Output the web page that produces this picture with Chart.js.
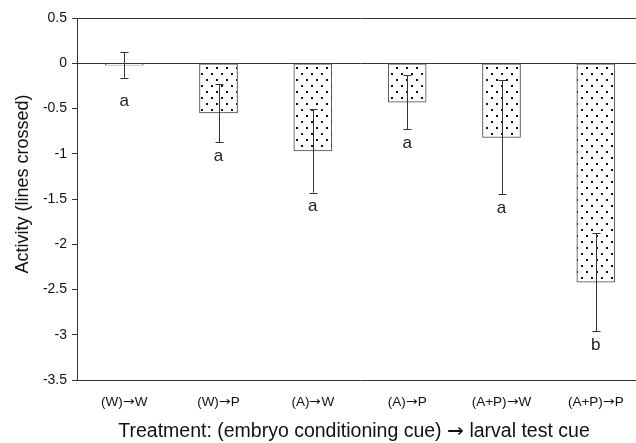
<!DOCTYPE html>
<html>
<head>
<meta charset="utf-8">
<script src="https://cdn.jsdelivr.net/npm/chart.js@4"></script>
<style>
  @font-face { font-family:"ArrowFix"; src:local("DejaVu Sans"); unicode-range:U+2192; }
  html, body { margin:0; padding:0; background:#fff; overflow:hidden; }
  #wrap { width:643px; height:443px; }
</style>
</head>
<body>
<div id="wrap"><canvas id="actChart" width="643" height="443"></canvas></div>
<script>
const categories = ["(W)\u2192W","(W)\u2192P","(A)\u2192W","(A)\u2192P","(A+P)\u2192W","(A+P)\u2192P"];
const activity = [-0.02, -0.55, -0.97, -0.43, -0.82, -2.42];
const stdErr = [0.14, 0.32, 0.46, 0.30, 0.63, 0.54];
const groupLetters = ["a","a","a","a","a","b"];
const yTicks = [0.5, 0, -0.5, -1, -1.5, -2, -2.5, -3, -3.5];

const xTitle = "Treatment: (embryo conditioning cue) \u2192 larval test cue";
const yTitle = "Activity (lines crossed)";

const FONT = "ArrowFix, 'Liberation Sans', Arial, sans-serif";

// dotted fill like the printed figure
function dotPattern(){
    const c = document.createElement("canvas");
    c.width = 10; c.height = 12;
    const g = c.getContext("2d");
    g.fillStyle = "#fff";
    g.fillRect(0,0,10,12);
    g.fillStyle = "#111";
    g.fillRect(1,1,2,2);
    g.fillRect(6,7,2,2);
    return g.createPattern(c, "repeat");
}

const errorBars = {
    id:"errorBars",
    afterDatasetsDraw(chart){
        const c = chart.ctx;
        const y = chart.scales.y;
        const meta = chart.getDatasetMeta(0);
        c.save();
        c.strokeStyle = "#333";
        c.lineWidth = 1;
        meta.data.forEach((bar, i) => {
            const x = Math.round(bar.x) + 0.5;
            const top = y.getPixelForValue(activity[i] + stdErr[i]);
            const bot = y.getPixelForValue(activity[i] - stdErr[i]);
            c.beginPath();
            c.moveTo(x, top); c.lineTo(x, bot);
            c.moveTo(x-4, Math.round(top)+0.5); c.lineTo(x+4, Math.round(top)+0.5);
            c.moveTo(x-4, Math.round(bot)+0.5); c.lineTo(x+4, Math.round(bot)+0.5);
            c.stroke();
            c.fillStyle = "#222";
            c.font = "17px " + FONT;
            c.textAlign = "center";
            c.textBaseline = "middle";
            c.fillText(groupLetters[i], bar.x, bot + (i === 0 ? 24 : 14));
        });
        c.restore();
    },
    afterDraw(chart){
        // axis titles, placed like the original figure
        const c = chart.ctx;
        c.save();
        c.fillStyle = "#111";
        c.textAlign = "center";
        c.textBaseline = "middle";
        c.font = "19.5px " + FONT;
        c.fillText(xTitle, 354, 432);
        c.translate(23, 184);
        c.rotate(-Math.PI / 2);
        c.font = "18px " + FONT;
        c.fillText(yTitle, 0, 0);
        c.restore();
    }
};

function draw(){
new Chart(document.getElementById("actChart"), {
    type:"bar",
    data:{
        labels:categories,
        datasets:[{
            data:activity,
            backgroundColor:dotPattern(),
            borderColor:"#444",
            borderWidth:1,
            borderSkipped:false,
            barThickness:38
        }]
    },
    options:{
        responsive:false,
        animation:false,
        layout:{ padding:{ top:18, right:0, left:0, bottom:0 } },
        plugins:{ legend:{ display:false }, tooltip:{ enabled:false } },
        scales:{
            x:{
                grid:{ display:false },
                border:{ color:"#333", width:1 },
                ticks:{ color:"#111", font:{ family:FONT, size:13.5 }, padding:6, maxRotation:0 },
                afterFit(s){ s.height = 63; }
            },
            y:{
                min:-3.5, max:0.5,
                afterBuildTicks(s){ s.ticks = yTicks.map(v => ({ value:v })); },
                grid:{
                    drawTicks:true, tickLength:5, tickColor:"#333",
                    color:ctx => (ctx.tick && (ctx.tick.value === 0 || ctx.tick.value === 0.5)) ? "#333" : "rgba(0,0,0,0)"
                },
                border:{ color:"#333", width:1 },
                ticks:{ color:"#111", font:{ family:FONT, size:14 }, padding:5,
                        callback:v => String(v) },
                afterFit(s){ s.width = 77; }
            }
        }
    },
    plugins:[errorBars]
});
}

document.fonts.load("13px ArrowFix", "\u2192").then(draw, draw);
</script>
</body>
</html>
